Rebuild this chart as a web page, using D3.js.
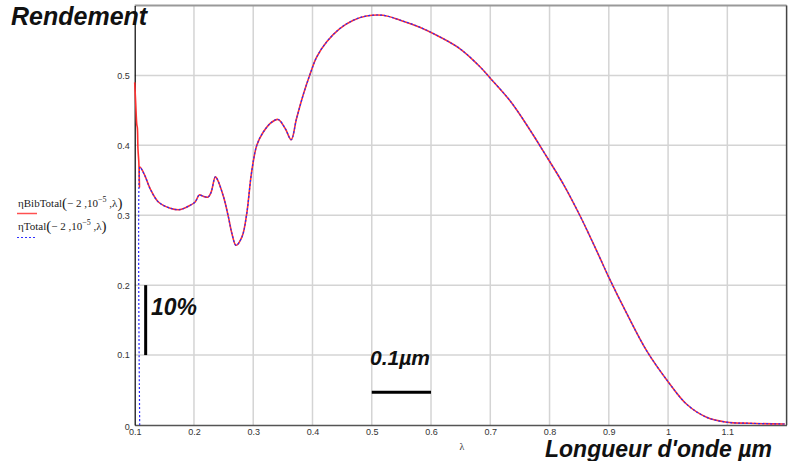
<!DOCTYPE html>
<html><head><meta charset="utf-8">
<script src="https://cdn.jsdelivr.net/npm/d3@7"></script>
<style>body{margin:0;background:#fff}svg{display:block}</style>
</head><body><svg id="c" width="793" height="461"></svg>
<script>
// ---- data ----
const xTicks = [0.1,0.2,0.3,0.4,0.5,0.6,0.7,0.8,0.9,1,1.1];
const xTickLabels = ["0.1","0.2","0.3","0.4","0.5","0.6","0.7","0.8","0.9","1","1.1"];
const yTicks = [0,0.1,0.2,0.3,0.4,0.5];
const yTickLabels = ["0","0.1","0.2","0.3","0.4","0.5"];
// shared part of both curves (lambda in µm, efficiency)
const lambdaShared = [0.109,0.117,0.126,0.140,0.160,0.176,0.193,0.202,0.209,0.216,0.224,0.229,0.236,0.239,0.250,0.258,0.264,0.271,0.281,0.289,0.297,0.306,0.317,0.331,0.342,0.354,0.364,0.373,0.385,0.396,0.407,0.424,0.446,0.469,0.491,0.519,0.548,0.581,0.615,0.649,0.683,0.700,0.734,0.767,0.795,0.823,0.851,0.868,0.885,0.899,0.930,0.964,1.000,1.031,1.065,1.099,1.138,1.197];
const etaShared    = [0.369,0.357,0.338,0.319,0.310,0.308,0.314,0.319,0.329,0.327,0.326,0.333,0.355,0.352,0.326,0.298,0.274,0.257,0.269,0.302,0.360,0.400,0.419,0.433,0.437,0.424,0.408,0.438,0.474,0.502,0.526,0.548,0.567,0.579,0.585,0.586,0.579,0.569,0.555,0.538,0.512,0.496,0.463,0.422,0.384,0.345,0.300,0.270,0.239,0.213,0.160,0.106,0.062,0.030,0.011,0.004,0.0024,0.0014];
// start of ηBibTotal (red)
const lambdaBibStart = [0.100,0.1017,0.1035,0.1045,0.1055,0.107,0.108];
const etaBibStart    = [0.490,0.460,0.430,0.425,0.395,0.375,0.340];
// start of ηTotal (blue)
const lambdaTotStart = [0.1084,0.1086];
const etaTotStart    = [0.000,0.369];

const bibSeries = lambdaBibStart.map((l,i)=>[l,etaBibStart[i]]).concat(lambdaShared.map((l,i)=>[l,etaShared[i]]));
const totSeries = lambdaTotStart.map((l,i)=>[l,etaTotStart[i]]).concat(lambdaShared.map((l,i)=>[l,etaShared[i]]));

// ---- layout ----
const svg = d3.select("#c");
const L=134.7, R=786.6, T=5.5, B=425;
const x = d3.scaleLinear().domain([0.1,1.2]).range([L,R]);
const y = d3.scaleLinear().domain([0,0.6]).range([B,T]);

// grid
const g = svg.append("g");
g.selectAll(".vg").data(xTicks.slice(1)).join("line")
  .attr("x1",d=>x(d)).attr("x2",d=>x(d)).attr("y1",T).attr("y2",B)
  .attr("stroke","#d4d4d4").attr("stroke-width",1.5);
g.selectAll(".hg").data(yTicks.slice(1)).join("line")
  .attr("x1",L).attr("x2",R).attr("y1",d=>y(d)).attr("y2",d=>y(d))
  .attr("stroke","#d4d4d4").attr("stroke-width",1.5);

// frame
svg.append("line").attr("x1",L).attr("x2",R).attr("y1",T).attr("y2",T).attr("stroke","#999").attr("stroke-width",2);
svg.append("line").attr("x1",R).attr("x2",R).attr("y1",T).attr("y2",B).attr("stroke","#444").attr("stroke-width",1.5);

// axes
const tickFont = "'Liberation Sans',Arial,sans-serif";
const xAxis = d3.axisBottom(x).tickValues(xTicks).tickFormat((d,i)=>xTickLabels[i]).tickSize(0).tickPadding(4);
const gx = svg.append("g").attr("transform",`translate(0,${B})`).call(xAxis);
gx.select(".domain").attr("stroke","#555").attr("stroke-width",1.5);
gx.selectAll("text").attr("font-family",tickFont).attr("font-size",9).attr("fill","#333");

const yAxis = d3.axisLeft(y).tickValues(yTicks).tickFormat((d,i)=>yTickLabels[i]).tickSize(0).tickPadding(5);
const gy = svg.append("g").attr("transform",`translate(${L},0)`).call(yAxis);
gy.select(".domain").attr("stroke","#000").attr("stroke-width",1.2);
gy.selectAll("text").attr("font-family",tickFont).attr("font-size",9).attr("fill","#333");
gy.selectAll(".tick").filter(d=>d===0).select("text").attr("dy","0.5em");

// curves
const line = d3.line().x(d=>x(d[0])).y(d=>y(d[1])).curve(d3.curveCatmullRom.alpha(0.5));
svg.append("path").datum(bibSeries).attr("d",line).attr("fill","none")
  .attr("stroke","#ff3030").attr("stroke-width",1.6);
svg.append("path").datum(totSeries).attr("d",line).attr("fill","none")
  .attr("stroke","#2a2aff").attr("stroke-width",1.2).attr("stroke-dasharray","2,2");

// scale bars
svg.append("line").attr("x1",x(0.1185)).attr("x2",x(0.1185)).attr("y1",y(0.2)).attr("y2",y(0.1))
  .attr("stroke","#000").attr("stroke-width",3);
svg.append("line").attr("x1",x(0.5)).attr("x2",x(0.6)).attr("y1",y(0.0467)).attr("y2",y(0.0467))
  .attr("stroke","#000").attr("stroke-width",3);

const big = "'Liberation Sans',Arial,sans-serif";
svg.append("text").attr("x",151).attr("y",315).attr("font-family",big).attr("font-weight","bold")
  .attr("font-style","italic").attr("font-size",23).attr("fill","#111").text("10%");
svg.append("text").attr("x",370).attr("y",365).attr("font-family",big).attr("font-weight","bold")
  .attr("font-style","italic").attr("font-size",21).attr("fill","#111").text("0.1µm");
svg.append("text").attr("x",11).attr("y",25).attr("font-family",big).attr("font-weight","bold")
  .attr("font-style","italic").attr("font-size",25).attr("fill","#111").text("Rendement");
svg.append("text").attr("x",545).attr("y",457).attr("font-family",big).attr("font-weight","bold")
  .attr("font-style","italic").attr("font-size",23).attr("fill","#111").text("Longueur d'onde µm");

// x axis name
svg.append("text").attr("x",462).attr("y",450).attr("text-anchor","middle")
  .attr("font-family","'Liberation Serif','Times New Roman',serif").attr("font-size",10).attr("fill","#333").text("λ");

// legend
const serif = "'Liberation Serif','Times New Roman',serif";
function legendLabel(yb, name){
  const t = svg.append("text").attr("x",18).attr("y",yb).attr("font-family",serif).attr("font-size",11).attr("fill","#222");
  t.append("tspan").text("η"+name);
  t.append("tspan").attr("font-size",15).attr("dy",1).text("(");
  t.append("tspan").attr("font-size",11).attr("dy",-1).text("− 2 ,10");
  t.append("tspan").attr("font-size",8).attr("dy",-5).text("−5");
  t.append("tspan").attr("font-size",11).attr("dy",5).text(" ,λ");
  t.append("tspan").attr("font-size",15).attr("dy",1).text(")");
}
legendLabel(207,"BibTotal");
svg.append("line").attr("x1",17).attr("x2",37).attr("y1",213.5).attr("y2",213.5).attr("stroke","#ff5050").attr("stroke-width",1.5);
legendLabel(230,"Total");
svg.append("line").attr("x1",17).attr("x2",37).attr("y1",237.5).attr("y2",237.5).attr("stroke","#3030ff").attr("stroke-width",1).attr("stroke-dasharray","2,2");
</script></body></html>
